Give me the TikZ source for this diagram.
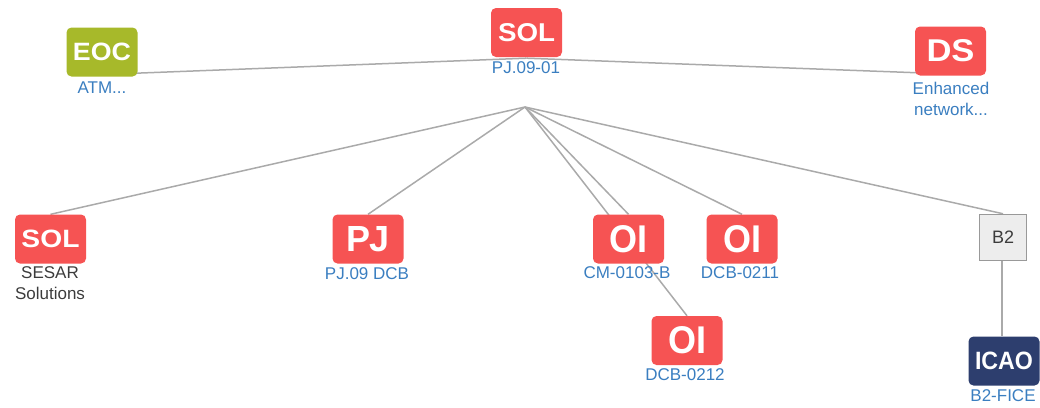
\documentclass[tikz,border=0pt]{standalone}
\usepackage{fontspec}
\setmainfont{Liberation Sans}
\usepackage{graphicx}
\usetikzlibrary{backgrounds}
\definecolor{redbox}{RGB}{246,83,83}
\definecolor{olivebox}{RGB}{167,185,42}
\definecolor{navybox}{RGB}{45,62,110}
\definecolor{lblblue}{RGB}{58,126,192}
\definecolor{edgegray}{RGB}{170,170,170}
\definecolor{txtgray}{RGB}{60,60,60}
\newcommand\fitlbl[3]{\resizebox{#1pt}{#2pt}{\bfseries #3}}
\tikzset{
  box/.style={rectangle, rounded corners=5pt, minimum width=71pt, minimum height=49pt, inner sep=0pt, text=white},
  redb/.style={box, fill=redbox},
  lbl/.style={inner sep=0pt, text=lblblue, font=\fontsize{17}{21}\selectfont, align=center},
  edge/.style={draw=edgegray, line width=1.5pt},
}
\begin{document}
\begin{tikzpicture}[x=1pt,y=-1pt]
\useasboundingbox (0,0) rectangle (1040,407);
% boxes
\node[redb] (solT) at (526.5,32.5) {\fitlbl{57}{18}{SOL}};
\node[box, fill=olivebox] (eoc) at (102,52) {\fitlbl{58}{17.5}{EOC}};
\node[redb] (ds) at (950.5,51) {\fitlbl{48}{22}{DS}};
\node[redb] (solL) at (50.5,239) {\fitlbl{58}{17.5}{SOL}};
\node[redb] (pj) at (368,239) {\fitlbl{44}{25}{PJ}};
\node[redb] (oiA) at (628.5,239) {\fitlbl{38}{27}{OI}};
\node[redb] (oiB) at (742,239) {\fitlbl{38}{27}{OI}};
\node[redb] (oiC) at (687,340.5) {\fitlbl{38}{27}{OI}};
\node[rectangle, fill=black!7, draw=black!40, line width=1.5pt, minimum width=47pt, minimum height=46pt, inner sep=0pt, text=txtgray, font=\fontsize{18}{20}\selectfont] (b2) at (1003,237.5) {B2};
\node[box, fill=navybox] (icao) at (1004,361) {\fitlbl{58}{17.5}{ICAO}};
% labels
\node[lbl] (lsolT) at (526,67.5) {PJ.09-01};
\node[lbl] (leoc) at (102,87.5) {ATM...};
\node[lbl] (lds) at (951,99) {Enhanced\\network...};
\node[lbl, text=txtgray] (lsolL) at (50,283) {SESAR\\Solutions};
\node[lbl] (lpj) at (367,273.5) {PJ.09 DCB};
\node[lbl] (loiA) at (627,273) {CM-0103-B};
\node[lbl] (loiB) at (740,273) {DCB-0211};
\node[lbl] (loiC) at (685,375) {DCB-0212};
\node[lbl] (licao) at (1003,396) {B2-FICE};
\coordinate (hub) at (525,107);
\coordinate (solS) at ([yshift=-1pt]solT.south);
\coordinate (eocE) at ([yshift=-22.5pt]eoc.center);
\coordinate (dsE) at ([yshift=-23pt]ds.center);
% edges
\begin{pgfonlayer}{background}
\draw[edge] (solS) -- (eocE);
\draw[edge] (solS) -- (dsE);
\draw[edge] (hub) -- (solL.north);
\draw[edge] (hub) -- (pj.north);
\draw[edge] (hub) -- (oiA.north);
\draw[edge] (hub) -- (oiB.north);
\draw[edge] (hub) -- (oiC.north);
\draw[edge] (hub) -- (b2.north);
\draw[edge] ([xshift=-1pt]b2.south) -- ([xshift=-1pt]b2.south |- icao.north);
\end{pgfonlayer}
\end{tikzpicture}
\end{document}
